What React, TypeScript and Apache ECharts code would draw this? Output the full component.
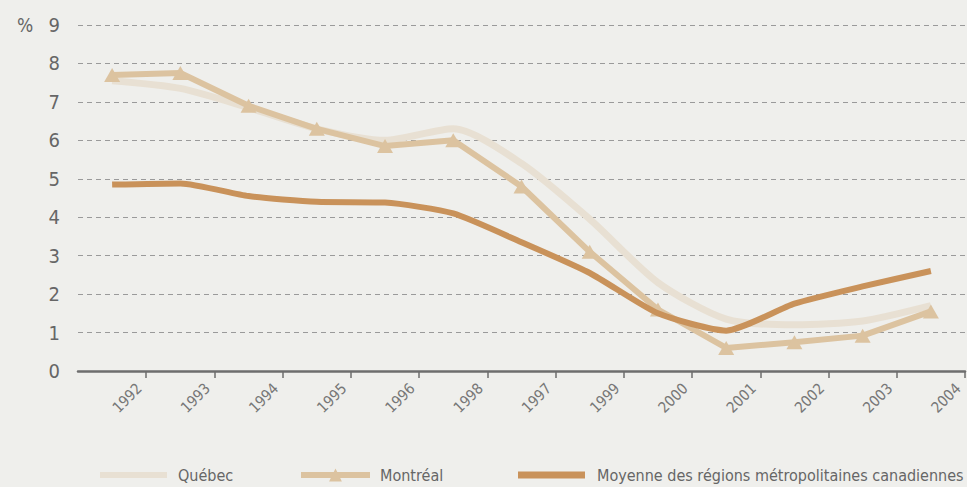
import React, { useEffect, useRef } from "react";
import * as echarts from "echarts";

const years = ["1992", "1993", "1994", "1995", "1996", "1998", "1997", "1999", "2000", "2001", "2002", "2003", "2004"];
const quebec = [7.55, 7.35, 6.85, 6.3, 6.0, 6.3, 5.4, 3.95, 2.3, 1.35, 1.2, 1.3, 1.7];
const montreal = [7.7, 7.75, 6.9, 6.3, 5.85, 6.0, 4.8, 3.1, 1.6, 0.6, 0.75, 0.92, 1.55];
const moyenne = [4.85, 4.88, 4.55, 4.4, 4.38, 4.1, 3.35, 2.55, 1.5, 1.05, 1.75, 2.2, 2.6];
const yTicks = [0, 1, 2, 3, 4, 5, 6, 7, 8, 9];

const FONT = "'DejaVu Sans Condensed', 'Liberation Sans Narrow', sans-serif";
const C_QC = "#e8e0d3";
const C_MTL = "#dcc3a0";
const C_MOY = "#c9925a";

export default function App() {
  const ref = useRef<HTMLDivElement>(null);
  useEffect(() => {
    document.body.style.margin = "0";
    const chart = echarts.init(ref.current!, null, { renderer: "svg" });
    const boundaries = years.map((_, i) => i + 1);
    const legendText = { fontSize: 16, color: "#666", fontFamily: FONT };
    chart.setOption({
      animation: false,
      backgroundColor: "#efefec",
      textStyle: { fontFamily: FONT },
      grid: { left: 78, right: 2, top: 25, bottom: 116, containLabel: false },
      graphic: [
        {
          type: "text",
          left: 17,
          top: 15,
          style: { text: "%", fontSize: 19, fill: "#666", fontFamily: FONT },
        },
      ],
      xAxis: [
        {
          type: "category",
          data: years,
          boundaryGap: true,
          axisLine: { show: true, lineStyle: { color: "#6e6e6e", width: 2.5 } },
          axisTick: { show: false },
          axisLabel: { show: false },
          splitLine: { show: false },
        },
        {
          type: "value",
          min: 0,
          max: years.length,
          interval: 1,
          position: "bottom",
          axisLine: { show: false },
          axisTick: {
            show: true,
            customValues: boundaries,
            length: 7,
            lineStyle: { color: "#6e6e6e", width: 1.5 },
          },
          axisLabel: {
            show: true,
            customValues: boundaries.map((b) => b - 0.1),
            formatter: (v: number) => years[Math.round(v) - 1] ?? "",
            rotate: 45,
            margin: 15,
            fontSize: 15,
            color: "#777",
            fontFamily: FONT,
          },
          splitLine: { show: false },
        },
      ],
      yAxis: {
        type: "value",
        min: yTicks[0],
        max: yTicks[yTicks.length - 1],
        interval: 1,
        axisLine: { show: false },
        axisTick: { show: false },
        axisLabel: { margin: 18, fontSize: 20, color: "#666", fontFamily: FONT },
        splitLine: { show: true, lineStyle: { color: "#9a9a9a", width: 1, type: [5, 4] } },
      },
      legend: [
        {
          data: ["Québec"],
          left: 95,
          top: 462,
          itemWidth: 67,
          itemHeight: 6,
          icon: "rect",
          itemStyle: { color: C_QC },
          textStyle: { ...legendText, padding: [0, 0, 0, 6] },
          selectedMode: false,
        },
        {
          data: ["Montréal"],
          left: 293,
          top: 462,
          itemWidth: 69,
          itemHeight: 16,
          lineStyle: { width: 6, color: C_MTL },
          itemStyle: { color: C_MTL },
          textStyle: { ...legendText, padding: [0, 0, 0, 5] },
          selectedMode: false,
        },
        {
          data: ["Moyenne des régions métropolitaines canadiennes"],
          left: 513,
          top: 462,
          itemWidth: 67,
          itemHeight: 7,
          icon: "rect",
          itemStyle: { color: C_MOY },
          textStyle: { ...legendText, padding: [0, 0, 0, 7] },
          selectedMode: false,
        },
      ],
      series: [
        {
          name: "Québec",
          type: "line",
          data: quebec,
          smooth: 0.25,
          symbol: "none",
          lineStyle: { color: C_QC, width: 7 },
          itemStyle: { color: C_QC },
          z: 2,
        },
        {
          name: "Montréal",
          type: "line",
          data: montreal,
          symbol: "triangle",
          symbolSize: [16, 14],
          lineStyle: { color: C_MTL, width: 6 },
          itemStyle: { color: C_MTL },
          z: 3,
        },
        {
          name: "Moyenne des régions métropolitaines canadiennes",
          type: "line",
          data: moyenne,
          smooth: 0.2,
          symbol: "none",
          lineStyle: { color: C_MOY, width: 6 },
          itemStyle: { color: C_MOY },
          z: 4,
        },
      ],
    });
    return () => chart.dispose();
  }, []);
  return <div ref={ref} style={{ width: 967, height: 487 }} />;
}
